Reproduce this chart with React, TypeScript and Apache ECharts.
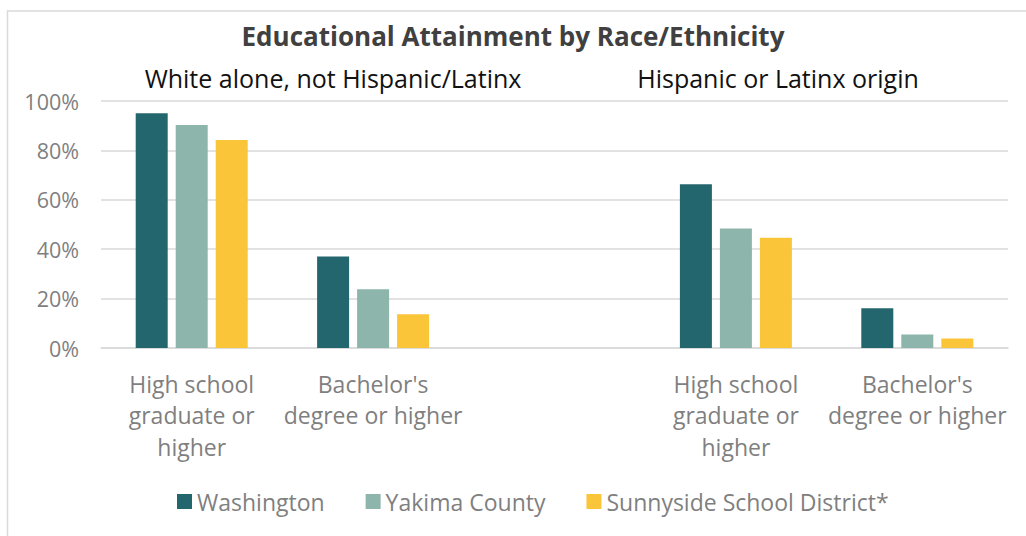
import React, { useEffect, useRef } from "react";
import * as echarts from "echarts";

const categories = [
  "High school\ngraduate or\nhigher",
  "Bachelor's\ndegree or higher",
  "",
  "High school\ngraduate or\nhigher",
  "Bachelor's\ndegree or higher",
];
const seriesNames = ["Washington", "Yakima County", "Sunnyside School District*"];
const washington = [95, 37, null, 66.3, 16.1];
const yakima = [90.3, 23.8, null, 48.4, 5.5];
const sunnyside = [84.2, 13.7, null, 44.6, 3.8];
const yTicks = [0, 20, 40, 60, 80, 100];
const groupLabels = ["White alone, not Hispanic/Latinx", "Hispanic or Latinx origin"];
const titleText = "Educational Attainment by Race/Ethnicity";

const colors = ["#24666e", "#8db5ab", "#fbc53a"];
const FONT = "'Open Sans', 'Noto Sans', sans-serif";

export default function App() {
  const ref = useRef<HTMLDivElement>(null);
  useEffect(() => {
    if (!ref.current) return;
    const chart = echarts.init(ref.current, null, { renderer: "svg" });
    const values = [washington, yakima, sunnyside];
    chart.setOption({
      animation: false,
      backgroundColor: "#ffffff",
      textStyle: { fontFamily: FONT },
      title: {
        text: titleText,
        left: "center",
        top: 18,
        textStyle: { fontFamily: FONT, fontSize: 26, fontWeight: "bold", color: "#404040" },
      },
      graphic: [
        {
          type: "rect",
          shape: { x: 7.5, y: 11, width: 1040, height: 560 },
          style: { fill: "none", stroke: "#d9d9d9", lineWidth: 1.5 },
          silent: true,
        },
        {
          type: "text",
          x: 333,
          y: 78,
          style: {
            text: groupLabels[0],
            fontFamily: FONT,
            fontSize: 25,
            fill: "#111111",
            align: "center",
            verticalAlign: "middle",
          },
        },
        {
          type: "text",
          x: 778,
          y: 78,
          style: {
            text: groupLabels[1],
            fontFamily: FONT,
            fontSize: 25,
            fill: "#111111",
            align: "center",
            verticalAlign: "middle",
          },
        },
      ],
      legend: {
        bottom: 18,
        left: 172,
        itemWidth: 15,
        itemHeight: 15,
        itemGap: 41,
        icon: "rect",
        textStyle: { fontFamily: FONT, fontSize: 23, color: "#7f7f7f" },
        data: seriesNames,
      },
      grid: { left: 101, right: 18, top: 101, bottom: 188 },
      xAxis: {
        type: "category",
        data: categories,
        axisTick: { show: false },
        axisLine: { lineStyle: { color: "#d9d9d9", width: 1.5 } },
        axisLabel: {
          interval: 0,
          margin: 20,
          fontFamily: FONT,
          fontSize: 23,
          lineHeight: 31.5,
          color: "#7f7f7f",
        },
      },
      yAxis: {
        type: "value",
        min: yTicks[0],
        max: yTicks[yTicks.length - 1],
        interval: 20,
        axisLabel: {
          formatter: "{value}%",
          fontFamily: FONT,
          fontSize: 21.5,
          color: "#7f7f7f",
          margin: 22,
        },
        axisLine: { show: false },
        axisTick: { show: false },
        splitLine: { lineStyle: { color: "#d9d9d9", width: 1.5 } },
      },
      series: seriesNames.map((name, i) => ({
        name,
        type: "bar",
        data: values[i],
        barWidth: 32,
        barGap: "25%",
        itemStyle: { color: colors[i] },
      })),
    });
    return () => chart.dispose();
  }, []);
  return (
    <div
      ref={ref}
      style={{ position: "fixed", left: 0, top: 0, width: 1026, height: 536 }}
    />
  );
}
